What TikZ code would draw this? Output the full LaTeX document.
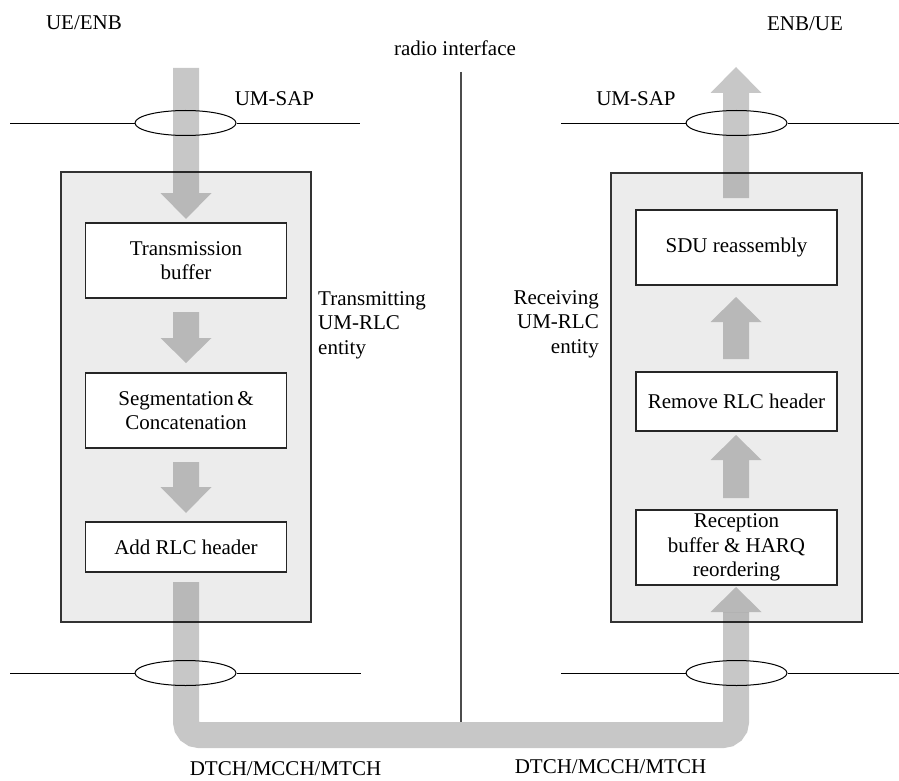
\documentclass[tikz,border=0pt]{standalone}
\usepackage{fontspec}
\setmainfont{Liberation Serif}
\usetikzlibrary{shapes.geometric}
\newcommand{\flowarrow}[4]{%
  \fill[flow] ({#1-13},#2) -- ({#1+13},#2) -- ({#1+13},#3) -- ({#1+25.5},#3)
    -- (#1,#4) -- ({#1-25.5},#3) -- ({#1-13},#3) -- cycle;}
\begin{document}
\begin{tikzpicture}[x=1pt,y=-1pt,
  lbl/.style={font=\fontsize{21}{24.5}\selectfont, inner sep=0pt, align=center},
  entity/.style={draw=black!80, line width=1.1pt, fill={rgb,255:red,236;green,236;blue,236}, inner sep=0pt},
  stepbox/.style={draw=black!85, line width=1.1pt, fill=white, inner sep=0pt, align=center,
    font=\fontsize{21}{24.5}\selectfont, minimum width=201pt},
  sap/.style={ellipse, draw=black, line width=1pt, fill=white, minimum width=101pt, minimum height=25pt, inner sep=0pt},
  flow/.style={fill=black, fill opacity=0.22, draw=none},
  layer/.style={draw=black, line width=0.9pt},
  pipe/.style={draw=black, draw opacity=0.22, line width=26pt, rounded corners=13pt},
]
\useasboundingbox (0,0) rectangle (899,781);

% entity boxes
\node[entity, minimum width=250pt, minimum height=450pt] (tx) at (186,397) {};
\node[entity, minimum width=251pt, minimum height=449pt] (rx) at (736.5,397.5) {};

% inner step boxes
\node[stepbox, minimum height=75pt] (tb) at (186,260.5) {Transmission\\buffer};
\node[stepbox, minimum height=75pt] (sc) at (186,410.5) {Segmentation\,\&\\Concatenation};
\node[stepbox, minimum height=50pt] (arh) at (186,547) {Add RLC header};
\node[stepbox, minimum height=75pt] (sdu) at (736.5,247.5) {SDU reassembly};
\node[stepbox, minimum height=59pt] (rrh) at (736.5,401.5) {Remove RLC header};
\node[stepbox, minimum height=75pt] (rcv) at (736.5,547.5) {Reception\\buffer \& HARQ\\reordering};

% radio interface line
\coordinate (riTop) at (461,72);
\coordinate (riBot) at (461,722);
\draw[draw=black!70, line width=1.3pt] (riTop) -- (riBot);

% SAP lines and ellipses
\node[sap] (sapTL) at (185.5,123) {};
\node[sap] (sapTR) at (736.5,123) {};
\node[sap] (sapBL) at (185.5,673) {};
\node[sap] (sapBR) at (736.5,673) {};
\coordinate (tla) at (10,123);  \coordinate (tlb) at (360,123);
\coordinate (tra) at (561,123); \coordinate (trb) at (899,123);
\coordinate (bla) at (10,673);  \coordinate (blb) at (361,673);
\coordinate (bra) at (561,673); \coordinate (brb) at (899,673);
\draw[layer] (tla) -- (sapTL.west) (sapTL.east) -- (tlb);
\draw[layer] (tra) -- (sapTR.west) (sapTR.east) -- (trb);
\draw[layer] (bla) -- (sapBL.west) (sapBL.east) -- (blb);
\draw[layer] (bra) -- (sapBR.west) (sapBR.east) -- (brb);

% flow arrows (transmitting side, downward)
\flowarrow{186}{68}{193}{219}
\flowarrow{186}{312}{338}{363}
\flowarrow{186}{462}{487}{513}
% flow arrows (receiving side, upward)
\flowarrow{736}{198}{93}{67}
\flowarrow{736}{359}{322}{297}
\flowarrow{736}{498}{460}{435}
% bottom pipe with final head
\coordinate (p0) at (186,582);
\coordinate (p1) at (186,735);
\coordinate (p2) at (736,735);
\coordinate (p3) at (736,612);
\draw[pipe] (p0) -- (p1) -- (p2) -- (p3);
\fill[flow] (710.5,612) -- (736,587) -- (761.5,612) -- cycle;

% labels
\node[lbl] (ue) at (84,23) {UE/ENB};
\node[lbl] (enb) at (805,24) {ENB/UE};
\node[lbl] (radio) at (455,48.5) {radio interface};
\node[lbl] (umsapL) at (274.5,98.5) {UM-SAP};
\node[lbl] (umsapR) at (636,98.5) {UM-SAP};
\node[lbl, align=left, anchor=west] (txlbl) at (318,325) {Transmitting\\UM-RLC\\entity};
\node[lbl, align=right, anchor=east] (rxlbl) at (599,324) {Receiving\\UM-RLC\\entity};
\node[lbl] (chL) at (285.5,769) {DTCH/MCCH/MTCH};
\node[lbl] (chR) at (610.5,767) {DTCH/MCCH/MTCH};
\end{tikzpicture}
\end{document}
